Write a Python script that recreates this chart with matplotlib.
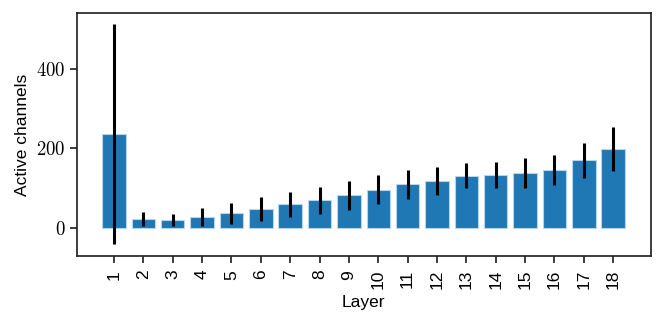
import numpy as np
import matplotlib
matplotlib.use('Agg')
import matplotlib.pyplot as plt

# =============================================================================
# Data
# =============================================================================

layers = np.arange(1, 19)
mean_active = [236, 23, 20, 28, 38, 48, 60, 70, 83, 97, 110, 119, 132, 134, 139, 146, 170, 199]
std_active = [275, 18, 15, 22, 26, 30, 31, 34, 36, 36, 36, 35, 32, 33, 37, 37, 43, 55]
ytick_vals = [0, 200, 400]

# =============================================================================
# Plotting
# =============================================================================

params = {'font.family': 'Liberation Sans',
          'font.size': 12.5,
          'mathtext.fontset': 'cm',
          'axes.edgecolor': '#262626',
          'axes.linewidth': 1.25,
          'xtick.color': '#262626',
          'ytick.color': '#262626',
          'xtick.major.size': 5,
          'ytick.major.size': 5,
          'xtick.major.pad': 5,
          'xtick.major.width': 1.25,
          'ytick.major.width': 1.25}
plt.rcParams.update(params)

fig = plt.figure(figsize=(6.64, 3.26), dpi=100)
ax = fig.add_axes([0.116, 0.215, 0.864, 0.745])

ax.bar(layers, mean_active, width=0.8, color='#1f77b4', edgecolor='#b9d3e8', linewidth=0.8,
       yerr=std_active, error_kw={'ecolor': 'black', 'elinewidth': 2.2, 'capsize': 0})

ax.set_xticks(layers)
ax.set_xticklabels([str(l) for l in layers], rotation=90, color='black')
ax.set_yticks(ytick_vals)
ax.set_yticklabels(['$%d$' % v for v in ytick_vals], color='black', fontsize=13.5)

ax.set_xlim(-0.26, 19.28)
ax.set_ylim(-69, 539)

ax.set_xlabel('Layer', color='black')
ax.set_ylabel('Active channels', color='black')

plt.savefig('out.png', dpi=100)
